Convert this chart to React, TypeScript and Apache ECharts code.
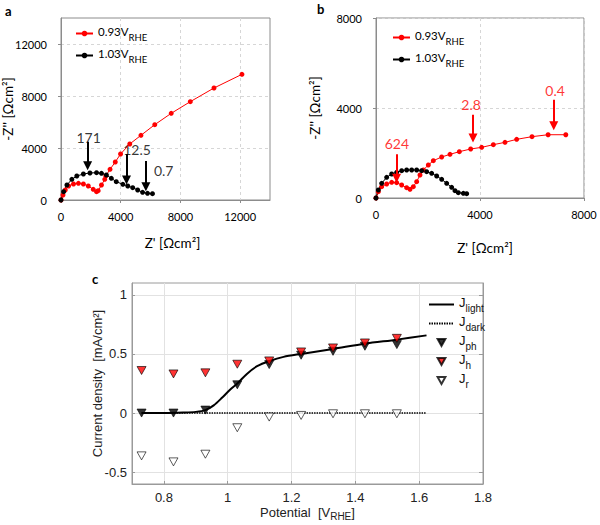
import React, { useEffect, useRef } from 'react';
import * as echarts from 'echarts';

// ---------- Panel a : Nyquist plot (Z' , -Z'') in Ωcm² ----------
const aRedZre = [0, 132, 286, 507, 837, 1168, 1499, 1829, 2160, 2380, 2490, 2711, 2931, 3000, 3284, 3636, 3989, 4606, 5355, 6281, 7383, 8661, 10248, 12121];
const aRedZim = [0, 385, 769, 1077, 1231, 1282, 1231, 1077, 821, 641, 718, 1154, 1590, 1850, 2359, 2923, 3538, 4308, 4974, 5795, 6667, 7564, 8615, 9667];
const aBlackZre = [0, 176, 397, 727, 1058, 1499, 1939, 2380, 2711, 3041, 3372, 3702, 4143, 4474, 4804, 5135, 5465, 5796, 6127];
const aBlackZim = [0, 641, 1154, 1590, 1846, 2000, 2077, 2103, 2051, 1923, 1667, 1410, 1205, 1077, 949, 769, 590, 513, 487];
const aTicks = [0, 4000, 8000, 12000];
const aNoteText = ['171', '12.5', '0.7'];
const aNoteX = [1851, 5091, 6876];
const aNoteY = [4846, 3923, 2231];
const aArrowX = [1785, 4386, 5686];
const aArrowTop = [4487, 3538, 3000];
const aArrowTip = [2641, 1538, 1026];

// ---------- Panel b ----------
const bRedZre = [0, 90, 218, 410, 603, 795, 987, 1179, 1308, 1436, 1564, 1692, 1821, 2013, 2205, 2526, 2846, 3205, 3641, 4064, 4513, 4962, 5410, 6000, 6620, 7300];
const bRedZim = [0, 281, 504, 622, 696, 681, 578, 459, 385, 504, 726, 1022, 1244, 1467, 1659, 1822, 1941, 2059, 2178, 2252, 2370, 2474, 2607, 2726, 2812, 2812];
const bBlackZre = [0, 90, 218, 410, 603, 795, 987, 1179, 1372, 1564, 1756, 1949, 2141, 2333, 2526, 2718, 2910, 3038, 3167, 3359, 3487];
const bBlackZim = [0, 356, 652, 919, 1067, 1141, 1215, 1244, 1244, 1244, 1215, 1170, 1096, 978, 830, 652, 474, 326, 237, 207, 193];
const bTicks = [0, 4000, 8000];
const bNoteText = ['624', '2.8', '0.4'];
const bNoteX = [805, 3655, 6888];
const bNoteY = [2409, 4149, 4788];
const bArrowX = [792, 3731, 6837];
const bArrowTop = [1948, 3703, 4372];
const bArrowTip = [877, 2662, 3212];

// ---------- Panel c : current density vs potential ----------
const cPotential = [0.73, 0.83, 0.93, 1.03, 1.13, 1.23, 1.33, 1.43, 1.53];
const cJph = [0, 0, 0.025, 0.239, 0.41, 0.489, 0.522, 0.565, 0.579];
const cJh = [0.36, 0.331, 0.34, 0.413, 0.441, 0.517, 0.551, 0.593, 0.632];
const cJr = [-0.362, -0.413, -0.348, -0.124, -0.034, -0.02, -0.006, -0.006, -0.006];
const cLightV = [0.73, 0.8, 0.86, 0.9, 0.93, 0.956, 0.982, 1.008, 1.03, 1.06, 1.092, 1.131, 1.175, 1.23, 1.33, 1.43, 1.53, 1.623];
const cLightJ = [0, 0, 0.004, 0.01, 0.025, 0.065, 0.129, 0.2, 0.25, 0.331, 0.396, 0.44, 0.475, 0.5, 0.542, 0.587, 0.621, 0.657];
const cDarkV = [0.73, 1.623];
const cDarkJ = [0, 0];
const cXTicks = [0.8, 1, 1.2, 1.4, 1.6, 1.8];
const cYTicks = [-0.5, 0, 0.5, 1];

const FONT_AB = 'Lato, "Open Sans", sans-serif';
const FONT_C = '"Liberation Sans", Arial, sans-serif';
const RED = '#ff0000';
const TRI_DOWN = 'path://M0,0 L10,0 L5,9 Z';

const pairs = (xs: number[], ys: number[]) => xs.map((x, i) => [x, ys[i]]);
const plain = (v: number) => String(v);

const abAxis = (max: number, ticks: number[], margin: number, extra: any) => ({
  type: 'value',
  min: 0,
  max,
  nameMoveOverlap: false,
  axisLine: { show: true, onZero: false, lineStyle: { color: '#8c8c8c' } },
  axisTick: { show: true, length: 3, customValues: ticks, lineStyle: { color: '#8c8c8c' } },
  axisLabel: { customValues: ticks, formatter: plain, color: '#000', fontFamily: FONT_AB, fontSize: 11, margin },
  splitLine: { show: true, lineStyle: { color: '#d6d6d6', type: [3, 3] } },
  nameTextStyle: { fontFamily: FONT_AB, fontSize: 13.5, color: '#000' },
  ...extra,
});

const cNameStyle = {
  fontFamily: FONT_C, fontSize: 13, color: '#222',
  rich: { s: { fontSize: 10, padding: [8, 0, 0, 0], fontFamily: FONT_C, color: '#222' } },
};

const cAxisBase = {
  type: 'value',
  nameMoveOverlap: false,
  axisLine: { show: true, onZero: false, lineStyle: { color: '#9a9a9a' } },
  splitLine: { show: true, lineStyle: { color: '#e2e2e2', width: 1 } },
  nameTextStyle: cNameStyle,
};

const legendRichAB = {
  a: { fontFamily: FONT_AB, fontSize: 11.5, color: '#000', verticalAlign: 'top', lineHeight: 12 },
  s: { fontFamily: FONT_AB, fontSize: 9.5, color: '#000', verticalAlign: 'top', padding: [7, 0, 0, 0] },
};
const legendRichC = {
  a: { fontFamily: FONT_C, fontSize: 13, color: '#111', verticalAlign: 'top', lineHeight: 13 },
  s: { fontFamily: FONT_C, fontSize: 10, color: '#111', verticalAlign: 'top', padding: [7, 0, 0, 0] },
};

const notes = (xs: number[], ys: number[], texts: string[]) => xs.map((x, i) => ({ value: [x, ys[i]], name: texts[i] }));
const arrows = (xs: number[], tops: number[], tips: number[]) => xs.map((x, i) => [{ coord: [x, tops[i]] }, { coord: [x, tips[i]] }]);

function buildOption(): any {
  return {
    animation: false,
    textStyle: { fontFamily: FONT_AB },
    graphic: [
      { type: 'text', left: 5, top: 4, style: { text: 'a', font: 'bold 13px Lato, sans-serif', fill: '#000' } },
      { type: 'text', left: 317, top: 2, style: { text: 'b', font: 'bold 13px Lato, sans-serif', fill: '#000' } },
      { type: 'text', left: 92, top: 272, style: { text: 'c', font: 'bold 13px Lato, sans-serif', fill: '#000' } },
    ],
    grid: [
      { left: 59, top: 18, width: 211, height: 182, show: true, borderColor: '#8c8c8c', borderWidth: 1, backgroundColor: 'transparent' },
      { left: 376, top: 18, width: 208, height: 180, show: true, borderColor: '#8c8c8c', borderWidth: 1, backgroundColor: 'transparent' },
      { left: 132, top: 283, width: 351, height: 201, show: true, borderColor: '#9a9a9a', borderWidth: 1, backgroundColor: 'transparent' },
    ],
    xAxis: [
      abAxis(14000, aTicks, 11, { gridIndex: 0, name: "Z' [Ωcm²]", nameLocation: 'middle', nameGap: 36, nameTextStyle: { fontFamily: FONT_AB, fontSize: 13.5, color: '#000', padding: [0, 0, 0, 14] } }),
      abAxis(8000, bTicks, 11, { gridIndex: 1, name: "Z' [Ωcm²]", nameLocation: 'middle', nameGap: 43, nameTextStyle: { fontFamily: FONT_AB, fontSize: 13.5, color: '#000', padding: [0, 0, 0, 10] } }),
      {
        ...cAxisBase,
        gridIndex: 2,
        min: 0.7,
        max: 1.8,
        axisTick: { show: true, inside: true, length: 3, customValues: cXTicks, lineStyle: { color: '#9a9a9a' } },
        axisLabel: { customValues: cXTicks, formatter: plain, color: '#222', fontFamily: FONT_C, fontSize: 13, margin: 7 },
        name: 'Potential  [V{s|RHE}]',
        nameLocation: 'middle',
        nameGap: 19,
      },
    ],
    yAxis: [
      abAxis(14000, aTicks, 14, { gridIndex: 0, name: "-Z'' [Ωcm²]", nameLocation: 'middle', nameGap: 46 }),
      abAxis(8000, bTicks, 14, { gridIndex: 1, name: "-Z'' [Ωcm²]", nameLocation: 'middle', nameGap: 54 }),
      {
        ...cAxisBase,
        gridIndex: 2,
        min: -0.6,
        max: 1.1,
        axisTick: { show: true, inside: true, length: 3, customValues: cYTicks, lineStyle: { color: '#9a9a9a' } },
        axisLabel: { customValues: cYTicks, formatter: plain, color: '#222', fontFamily: FONT_C, fontSize: 13, margin: 5 },
        name: 'Current density  [mA/cm²]',
        nameLocation: 'middle',
        nameGap: 28,
      },
      {
        type: 'value',
        gridIndex: 2,
        position: 'right',
        min: -0.6,
        max: 1.1,
        axisLine: { show: true, onZero: false, lineStyle: { color: '#9a9a9a' } },
        axisTick: { show: true, inside: true, length: 4, customValues: cYTicks, lineStyle: { color: '#9a9a9a' } },
        axisLabel: { show: false },
        splitLine: { show: false },
      },
    ],
    legend: [
      {
        left: 70, top: 20, orient: 'vertical', itemWidth: 17, itemHeight: 7, itemGap: 5,
        data: ['a093', 'a103'],
        formatter: (n: string) => (n === 'a093' ? '{a|0.93V}{s|RHE}' : '{a|1.03V}{s|RHE}'),
        textStyle: { rich: legendRichAB },
        selectedMode: false,
      },
      {
        left: 387, top: 24, orient: 'vertical', itemWidth: 17, itemHeight: 7, itemGap: 5,
        data: ['b093', 'b103'],
        formatter: (n: string) => (n === 'b093' ? '{a|0.93V}{s|RHE}' : '{a|1.03V}{s|RHE}'),
        textStyle: { rich: legendRichAB },
        selectedMode: false,
      },
      {
        left: 423, top: 291, orient: 'vertical', itemWidth: 25, itemHeight: 7, itemGap: 2,
        data: [
          { name: 'Jlight', itemStyle: { color: 'transparent', borderWidth: 0 } },
          { name: 'Jdark', itemStyle: { color: 'transparent', borderWidth: 0 } },
          'Jph', 'Jh', 'Jr',
        ],
        formatter: (n: string) => '{a|J}{s|' + n.slice(1) + '}',
        textStyle: { rich: legendRichC },
        selectedMode: false,
      },
    ],
    series: [
      // panel a
      { type: 'line', name: 'a093', xAxisIndex: 0, yAxisIndex: 0, data: pairs(aRedZre, aRedZim), symbol: 'circle', symbolSize: 5, lineStyle: { color: RED, width: 1 }, itemStyle: { color: RED }, silent: true },
      { type: 'line', name: 'a103', xAxisIndex: 0, yAxisIndex: 0, data: pairs(aBlackZre, aBlackZim), symbol: 'circle', symbolSize: 5, lineStyle: { color: '#000', width: 1 }, itemStyle: { color: '#000' }, silent: true },
      {
        type: 'scatter', name: 'aNotes', xAxisIndex: 0, yAxisIndex: 0, data: notes(aNoteX, aNoteY, aNoteText), symbolSize: 1,
        itemStyle: { color: 'transparent' }, silent: true,
        label: { show: true, position: 'inside', formatter: '{b}', color: '#000', fontFamily: FONT_AB, fontSize: 14 },
        markLine: { silent: true, symbol: ['none', 'triangle'], symbolSize: 9, lineStyle: { color: '#000', width: 2, type: 'solid' }, label: { show: false }, data: arrows(aArrowX, aArrowTop, aArrowTip) },
      },
      // panel b
      { type: 'line', name: 'b093', xAxisIndex: 1, yAxisIndex: 1, data: pairs(bRedZre, bRedZim), symbol: 'circle', symbolSize: 5, lineStyle: { color: RED, width: 1 }, itemStyle: { color: RED }, silent: true },
      { type: 'line', name: 'b103', xAxisIndex: 1, yAxisIndex: 1, data: pairs(bBlackZre, bBlackZim), symbol: 'circle', symbolSize: 5, lineStyle: { color: '#000', width: 1 }, itemStyle: { color: '#000' }, silent: true },
      {
        type: 'scatter', name: 'bNotes', xAxisIndex: 1, yAxisIndex: 1, data: notes(bNoteX, bNoteY, bNoteText), symbolSize: 1,
        itemStyle: { color: 'transparent' }, silent: true,
        label: { show: true, position: 'inside', formatter: '{b}', color: RED, fontFamily: FONT_AB, fontSize: 14 },
        markLine: { silent: true, symbol: ['none', 'triangle'], symbolSize: 9, lineStyle: { color: RED, width: 2, type: 'solid' }, label: { show: false }, data: arrows(bArrowX, bArrowTop, bArrowTip) },
      },
      // panel c
      { type: 'line', name: 'Jlight', xAxisIndex: 2, yAxisIndex: 2, data: pairs(cLightV, cLightJ), symbol: 'none', smooth: 0.3, lineStyle: { color: '#000', width: 2 }, itemStyle: { color: '#000' }, silent: true, z: 2 },
      { type: 'line', name: 'Jdark', xAxisIndex: 2, yAxisIndex: 2, data: pairs(cDarkV, cDarkJ), symbol: 'none', lineStyle: { color: '#000', width: 1.5, type: [1.5, 1] }, itemStyle: { color: '#000' }, silent: true, z: 2 },
      { type: 'scatter', name: 'Jph', xAxisIndex: 2, yAxisIndex: 2, data: pairs(cPotential, cJph), symbol: TRI_DOWN, symbolSize: [9, 8], itemStyle: { color: '#000', borderColor: '#000', borderWidth: 0.8 }, silent: true, z: 3 },
      { type: 'scatter', name: 'Jh', xAxisIndex: 2, yAxisIndex: 2, data: pairs(cPotential, cJh), symbol: TRI_DOWN, symbolSize: [9, 8], itemStyle: { color: RED, borderColor: '#000', borderWidth: 0.8 }, silent: true, z: 3 },
      { type: 'scatter', name: 'Jr', xAxisIndex: 2, yAxisIndex: 2, data: pairs(cPotential, cJr), symbol: TRI_DOWN, symbolSize: [9, 8], itemStyle: { color: '#fff', borderColor: '#000', borderWidth: 0.8 }, silent: true, z: 3 },
    ],
  };
}

export default function App() {
  const ref = useRef<HTMLDivElement>(null);
  useEffect(() => {
    document.body.style.margin = '0';
    if (!ref.current) return;
    const chart = echarts.init(ref.current, undefined, { renderer: 'svg' });
    chart.setOption(buildOption());
    return () => chart.dispose();
  }, []);
  return <div ref={ref} style={{ width: 600, height: 525, background: '#fff' }} />;
}
